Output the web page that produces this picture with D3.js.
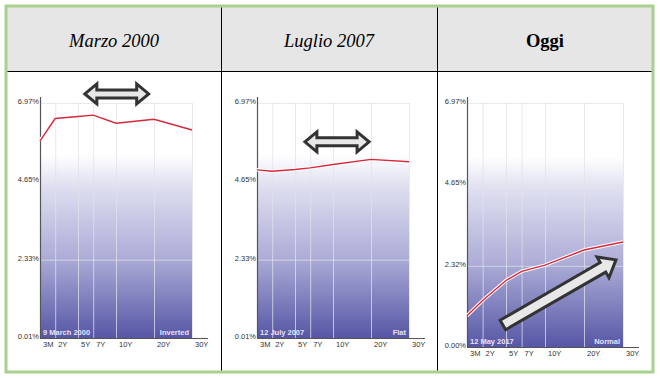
<!DOCTYPE html>
<html>
<head>
<meta charset="utf-8">
<script src="https://cdn.jsdelivr.net/npm/d3@7"></script>
<style>
  body { margin: 0; background: #fff; }
</style>
</head>
<body>
<div id="wrapper"></div>
<script>
/* DATA */
const headers = ["Marzo 2000", "Luglio 2007", "Oggi"];
const maturities = ["3M", "2Y", "5Y", "7Y", "10Y", "20Y", "30Y"];
const maturityYears = [0.25, 2, 5, 7, 10, 20, 30];
const yieldsMar2000 = [5.85, 6.51, 6.57, 6.61, 6.37, 6.49, 6.17];
const yieldsJul2007 = [4.99, 4.95, 5.0, 5.05, 5.15, 5.3, 5.23];
const yieldsMay2017 = [0.89, 1.33, 1.9, 2.16, 2.34, 2.77, 3.0];
const dateLabels = ["9  March 2000", "12  July 2007", "12  May 2017"];
const curveLabels = ["Inverted", "Flat", "Normal"];
const yTicksOld = [0.01, 2.33, 4.65, 6.97];
const yTicksNew = [0.0, 2.32, 4.65, 6.97];

/* annotation arrows, in [maturity, yield] */
const arrowMar2000 = [[5.9, 7.24], [18.6, 7.24]];
const arrowJul2007 = [[6.3, 5.82], [19.5, 5.82]];
const arrowMay2017 = [[4.6, 0.63], [28.2, 2.49]];

/* LAYOUT */
const width = 660;
const height = 378;
const xFractions = [0, 0.1, 0.25, 0.35, 0.5, 0.75, 1];

const panels = [
  { header: headers[0], italic: true, values: yieldsMar2000, ticks: yTicksOld,
    date: dateLabels[0], kind: curveLabels[0], arrow: arrowMar2000, double: true,
    left: 40, top: 103, w: 152, h: 235, cx: 114 },
  { header: headers[1], italic: true, values: yieldsJul2007, ticks: yTicksOld,
    date: dateLabels[1], kind: curveLabels[1], arrow: arrowJul2007, double: true,
    left: 257, top: 103, w: 152, h: 235, cx: 329 },
  { header: headers[2], italic: false, values: yieldsMay2017, ticks: yTicksNew,
    date: dateLabels[2], kind: curveLabels[2], arrow: arrowMay2017, double: false,
    left: 467, top: 103, w: 156, h: 244, cx: 545 },
];

const svg = d3.select("#wrapper")
  .append("svg")
  .attr("width", width)
  .attr("height", height);

const defs = svg.append("defs");
const grad = defs.append("linearGradient")
  .attr("id", "fade")
  .attr("x1", 0).attr("y1", 0).attr("x2", 0).attr("y2", 1);
grad.append("stop").attr("offset", 0).attr("stop-color", "#ffffff");
grad.append("stop").attr("offset", 0.22).attr("stop-color", "#ffffff");
grad.append("stop").attr("offset", 0.36).attr("stop-color", "#dedef0");
grad.append("stop").attr("offset", 0.65).attr("stop-color", "#aeaed8");
grad.append("stop").attr("offset", 1).attr("stop-color", "#5656a6");

/* TABLE */
svg.append("rect")
  .attr("x", 7).attr("y", 7).attr("width", 645).attr("height", 64)
  .attr("fill", "#e6e6e6");

svg.append("line")
  .attr("x1", 7).attr("x2", 652).attr("y1", 71.5).attr("y2", 71.5)
  .attr("stroke", "#000").attr("stroke-width", 1);

[221.5, 437.5].forEach((x) => {
  svg.append("line")
    .attr("x1", x).attr("x2", x).attr("y1", 7).attr("y2", 371)
    .attr("stroke", "#000").attr("stroke-width", 1);
});

svg.append("rect")
  .attr("x", 6).attr("y", 6).attr("width", 647).attr("height", 366)
  .attr("fill", "none")
  .attr("stroke", "#a9d08e")
  .attr("stroke-width", 3);

/* PANELS */
const font = "'Liberation Sans', Arial, sans-serif";

function drawPanel(p) {
  svg.append("text")
    .attr("x", p.cx).attr("y", 47)
    .attr("text-anchor", "middle")
    .style("font-family", "'Liberation Serif', 'Times New Roman', serif")
    .style("font-size", "18.5px")
    .style("font-style", p.italic ? "italic" : "normal")
    .style("font-weight", p.italic ? "normal" : "bold")
    .text(p.header);

  const xScale = d3.scaleLinear()
    .domain(maturityYears)
    .range(xFractions.map((f) => f * p.w));

  const yScale = d3.scaleLinear()
    .domain([p.ticks[0], p.ticks[p.ticks.length - 1]])
    .range([p.h, 0]);

  const bounds = svg.append("g")
    .attr("transform", `translate(${p.left}, ${p.top})`);

  bounds.append("rect")
    .attr("width", p.w).attr("height", p.h)
    .attr("fill", "url(#fade)");

  /* grid */
  bounds.selectAll(".vgrid")
    .data(maturityYears)
    .join("line")
    .attr("x1", (d) => xScale(d) + 0.5).attr("x2", (d) => xScale(d) + 0.5)
    .attr("y1", 0).attr("y2", p.h)
    .attr("stroke", "#e2e2ea")
    .attr("stroke-opacity", 0.75);

  bounds.selectAll(".hgrid")
    .data(p.ticks)
    .join("line")
    .attr("x1", 0).attr("x2", p.w)
    .attr("y1", (d) => yScale(d) + 0.5).attr("y2", (d) => yScale(d) + 0.5)
    .attr("stroke", "#e2e2ea")
    .attr("stroke-opacity", 0.75);

  /* axes */
  bounds.append("line")
    .attr("x1", 0.5).attr("x2", 0.5).attr("y1", -6).attr("y2", p.h)
    .attr("stroke", "#555").attr("stroke-width", 1.2);
  bounds.append("line")
    .attr("x1", 0).attr("x2", p.w + 16).attr("y1", p.h + 0.5).attr("y2", p.h + 0.5)
    .attr("stroke", "#555").attr("stroke-width", 1);

  bounds.selectAll(".ylab")
    .data(p.ticks)
    .join("text")
    .attr("x", -1).attr("y", (d) => yScale(d) + 1)
    .attr("text-anchor", "end")
    .style("font-family", font).style("font-size", "7.5px")
    .attr("fill", "#333")
    .text((d) => d.toFixed(2) + "%");

  bounds.selectAll(".xlab")
    .data(maturityYears)
    .join("text")
    .attr("x", (d) => xScale(d) + 3).attr("y", p.h + 9)
    .style("font-family", font).style("font-size", "7.5px")
    .attr("fill", "#333")
    .text((d, i) => maturities[i]);

  bounds.append("text")
    .attr("x", 3).attr("y", p.h - 3)
    .style("font-family", font).style("font-size", "7.5px")
    .style("font-weight", "bold")
    .attr("fill", "#e4e4fa")
    .text(p.date);
  bounds.append("text")
    .attr("x", p.w - 3).attr("y", p.h - 3)
    .attr("text-anchor", "end")
    .style("font-family", font).style("font-size", "7.5px")
    .style("font-weight", "bold")
    .attr("fill", "#e4e4fa")
    .text(p.kind);

  /* curve */
  const lineGenerator = d3.line()
    .x((d, i) => xScale(maturityYears[i]))
    .y((d) => yScale(d));

  bounds.append("path")
    .attr("d", lineGenerator(p.values))
    .attr("fill", "none")
    .attr("stroke", "#fff")
    .attr("stroke-width", 3.5);
  bounds.append("path")
    .attr("d", lineGenerator(p.values))
    .attr("fill", "none")
    .attr("stroke", "#d8283a")
    .attr("stroke-width", 1.4);

  /* arrow */
  const [a, b] = p.arrow;
  const x1 = xScale(a[0]), y1 = yScale(a[1]);
  const x2 = xScale(b[0]), y2 = yScale(b[1]);
  const len = Math.hypot(x2 - x1, y2 - y1);
  const angle = (Math.atan2(y2 - y1, x2 - x1) * 180) / Math.PI;
  let shape;
  if (p.double) {
    const hl = 12, hw = 10, sw = 4;
    shape = [[0, 0], [hl, -hw], [hl, -sw], [len - hl, -sw], [len - hl, -hw], [len, 0],
      [len - hl, hw], [len - hl, sw], [hl, sw], [hl, hw]];
  } else {
    const hl = 15, hw = 12, sw = 5.5;
    shape = [[0, -sw], [len - hl, -sw], [len - hl, -hw], [len, 0],
      [len - hl, hw], [len - hl, sw], [0, sw]];
  }
  bounds.append("path")
    .attr("transform", `translate(${x1}, ${y1}) rotate(${angle})`)
    .attr("d", d3.line()(shape) + "Z")
    .attr("fill", "#e8e8e8")
    .attr("stroke", "#333")
    .attr("stroke-width", 3)
    .attr("stroke-linejoin", "miter");
}

panels.forEach(drawPanel);
</script>
</body>
</html>
